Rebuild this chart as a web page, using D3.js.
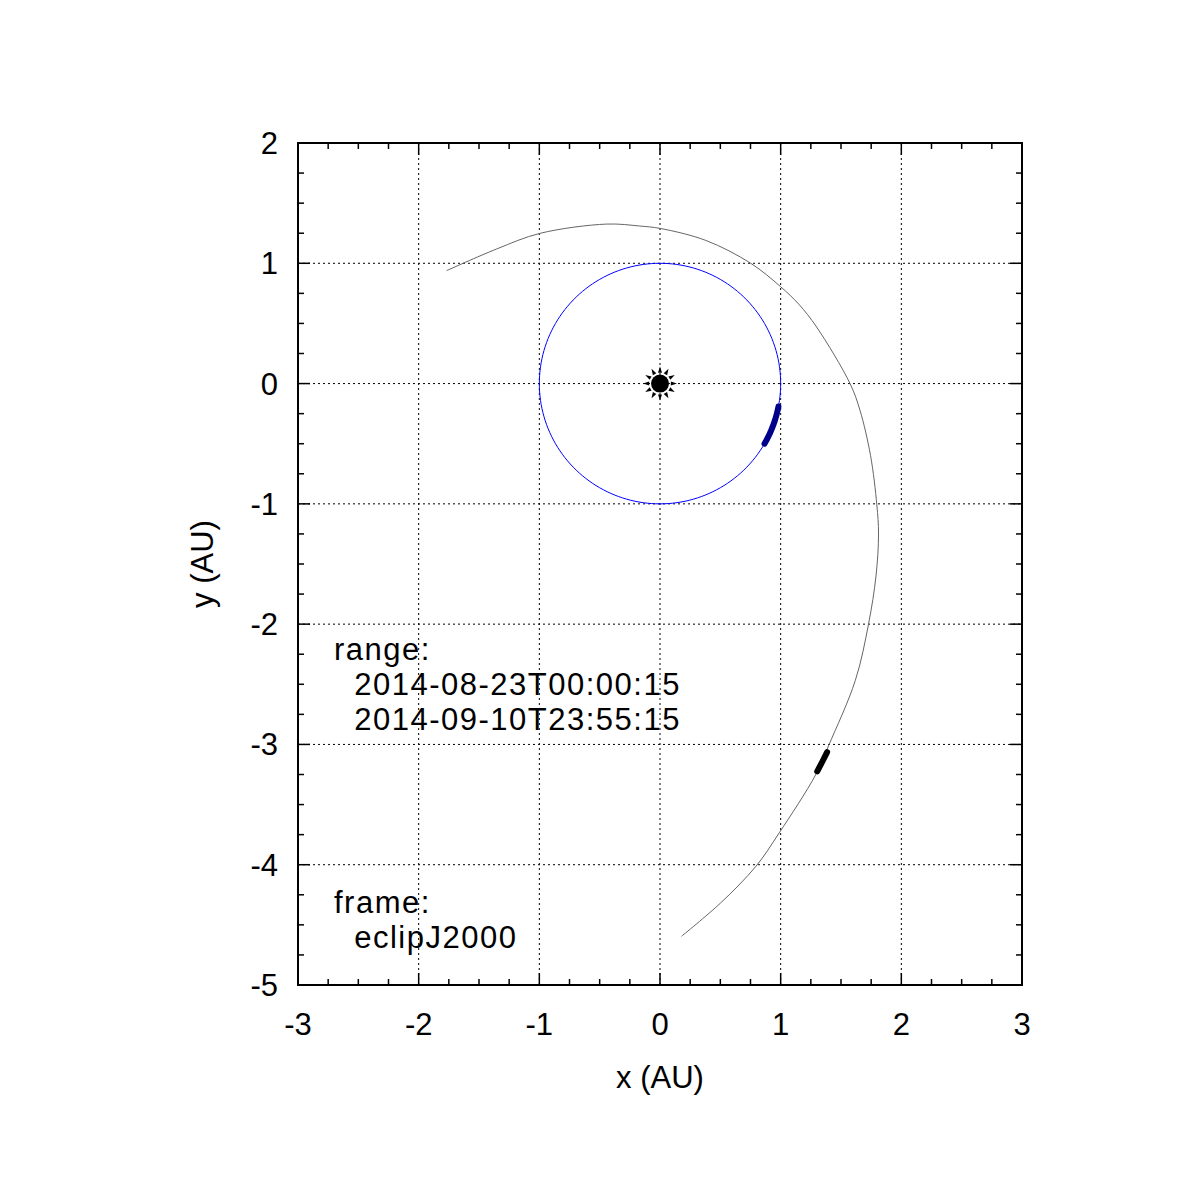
<!DOCTYPE html>
<html>
<head>
<meta charset="utf-8">
<script src="https://cdn.jsdelivr.net/npm/d3@7"></script>
<style>
body { margin: 0; background: #fff; }
text { font-family: "Liberation Sans", Arial, sans-serif; }
</style>
</head>
<body>
<div id="chart"></div>
<script>
// spacecraft trajectory (AU)
const trajX = [-1.768, -1.354, -0.994, -0.442, -0.17, 0, 0.38, 0.752, 1.0, 1.15, 1.298, 1.575, 1.657, 1.745, 1.797, 1.811, 1.790, 1.728, 1.619, 1.399, 1.289, 0.988, 0.796, 0.50, 0.178];
const trajY = [0.939, 1.119, 1.249, 1.326, 1.31, 1.29, 1.19, 1.0, 0.805, 0.66, 0.470, 0, -0.221, -0.600, -1.009, -1.250, -1.600, -2.0, -2.467, -3.006, -3.254, -3.735, -4.012, -4.32, -4.595];
// highlighted range on the trajectory
const segX = [1.385, 1.345, 1.303];
const segY = [-3.064, -3.144, -3.224];
// earth orbit, radius 1 AU, highlighted arc angles (deg)
const earthRadius = 1;
const earthArcDeg = [-11, -30];
const xTicks = [-3, -2, -1, 0, 1, 2, 3];
const yTicks = [2, 1, 0, -1, -2, -3, -4, -5];
const rangeLines = ["range:", "  2014-08-23T00:00:15", "  2014-09-10T23:55:15"];
const frameLines = ["frame:", "  eclipJ2000"];

const W = 1199, H = 1200;
const m = { left: 298, top: 143, right: 1022, bottom: 985 };
const FS = 31;
const svg = d3.select("#chart").append("svg").attr("width", W).attr("height", H);

const x = d3.scaleLinear().domain([-3, 3]).range([m.left, m.right]);
const y = d3.scaleLinear().domain([-5, 2]).range([m.bottom, m.top]);

// grid
const grid = svg.append("g").attr("stroke", "#000").attr("stroke-width", 1).attr("stroke-dasharray", "2,3");
xTicks.slice(1, -1).forEach(t => grid.append("line").attr("x1", x(t)).attr("x2", x(t)).attr("y1", m.top).attr("y2", m.bottom));
yTicks.slice(1, -1).forEach(t => grid.append("line").attr("y1", y(t)).attr("y2", y(t)).attr("x1", m.left).attr("x2", m.right));

// ticks, mirrored on all sides
const tk = svg.append("g").attr("stroke", "#000").attr("stroke-width", 1.5);
d3.range(-3, 3.001, 0.25).forEach(t => {
  const major = Math.abs(t - Math.round(t)) < 1e-6;
  const len = major ? 12 : 6;
  tk.append("line").attr("x1", x(t)).attr("x2", x(t)).attr("y1", m.bottom).attr("y2", m.bottom - len);
  tk.append("line").attr("x1", x(t)).attr("x2", x(t)).attr("y1", m.top).attr("y2", m.top + len);
});
d3.range(-5, 2.001, 0.25).forEach(t => {
  const major = Math.abs(t - Math.round(t)) < 1e-6;
  const len = major ? 12 : 6;
  tk.append("line").attr("y1", y(t)).attr("y2", y(t)).attr("x1", m.left).attr("x2", m.left + len);
  tk.append("line").attr("y1", y(t)).attr("y2", y(t)).attr("x1", m.right).attr("x2", m.right - len);
});

svg.append("rect").attr("x", m.left).attr("y", m.top).attr("width", m.right - m.left).attr("height", m.bottom - m.top)
  .attr("fill", "none").attr("stroke", "#000").attr("stroke-width", 2);

// tick labels
xTicks.forEach(t => svg.append("text").attr("x", x(t)).attr("y", m.bottom + 50).attr("text-anchor", "middle")
  .attr("font-size", FS).text(t));
yTicks.forEach(t => svg.append("text").attr("x", m.left - 20).attr("y", y(t) + 11).attr("text-anchor", "end")
  .attr("font-size", FS).text(t));

svg.append("text").attr("x", (m.left + m.right) / 2).attr("y", 1088).attr("text-anchor", "middle").attr("font-size", FS).text("x (AU)");
svg.append("text").attr("transform", `translate(213,${(m.top + m.bottom) / 2}) rotate(-90)`).attr("text-anchor", "middle")
  .attr("font-size", FS).text("y (AU)");

// earth orbit
const line = d3.line().x(d => x(d[0])).y(d => y(d[1]));
const smooth = d3.line().x(d => x(d[0])).y(d => y(d[1])).curve(d3.curveCatmullRom.alpha(0.5));
const circ = d3.range(0, 361, 2).map(a => [earthRadius * Math.cos(a * Math.PI / 180), earthRadius * Math.sin(a * Math.PI / 180)]);
svg.append("path").attr("d", line(circ)).attr("fill", "none").attr("stroke", "#0000ff").attr("stroke-width", 1);
const arc = d3.range(earthArcDeg[0], earthArcDeg[1] - 0.1, -1).map(a => [earthRadius * Math.cos(a * Math.PI / 180), earthRadius * Math.sin(a * Math.PI / 180)]);
svg.append("path").attr("d", line(arc)).attr("fill", "none").attr("stroke", "#00008b").attr("stroke-width", 6).attr("stroke-linecap", "round");

// trajectory
const traj = trajX.map((v, i) => [v, trajY[i]]);
svg.append("path").attr("d", smooth(traj)).attr("fill", "none").attr("stroke", "#666").attr("stroke-width", 1);
const seg = segX.map((v, i) => [v, segY[i]]);
svg.append("path").attr("d", line(seg)).attr("fill", "none").attr("stroke", "#000").attr("stroke-width", 6).attr("stroke-linecap", "round");

// sun
const sx = x(0), sy = y(0);
svg.append("circle").attr("cx", sx).attr("cy", sy).attr("r", 9).attr("fill", "#000");
d3.range(0, 360, 30).forEach(a => {
  const r = a * Math.PI / 180;
  const t0 = [sx + 17 * Math.cos(r), sy + 17 * Math.sin(r)];
  const b1 = [sx + 11 * Math.cos(r + 0.18), sy + 11 * Math.sin(r + 0.18)];
  const b2 = [sx + 11 * Math.cos(r - 0.18), sy + 11 * Math.sin(r - 0.18)];
  svg.append("path").attr("d", `M${t0}L${b1}L${b2}Z`).attr("fill", "#000");
});

// annotations
const addLines = (lines, y0) => lines.forEach((s, i) => svg.append("text").attr("x", 334).attr("y", y0 + i * 35)
  .attr("font-size", FS).attr("letter-spacing", 1.5).attr("xml:space", "preserve").text(s));
addLines(rangeLines, 660);
addLines(frameLines, 913);
</script>
</body>
</html>
